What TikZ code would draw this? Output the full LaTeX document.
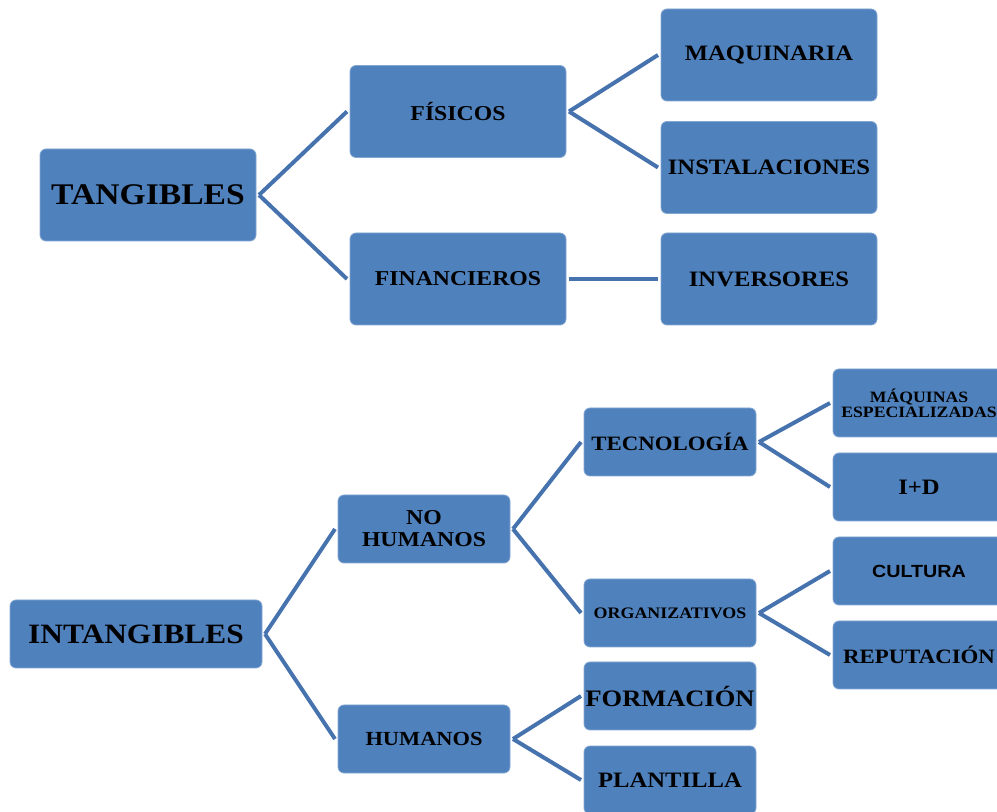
\documentclass[tikz,border=0pt]{standalone}
\usepackage{fontspec}
\setmainfont{Liberation Serif}[FakeStretch=1.12]
\setsansfont{Liberation Sans}[FakeStretch=1.12]
\usepackage{tikz}
\usetikzlibrary{arrows,shapes,positioning}
\definecolor{boxblue}{HTML}{4F81BD}
\definecolor{lineblue}{HTML}{4673AE}
\tikzstyle{bluenode} = [rectangle, draw=boxblue!70!white, line width=0.4pt, fill=boxblue,
    align=center, inner sep=0pt, rounded corners=3pt, outer sep=1.5pt, font=\bfseries]
\tikzstyle{topnode}  = [bluenode, minimum width=108pt, minimum height=46pt]
\tikzstyle{lownode}  = [bluenode, minimum width=86pt, minimum height=34pt]
\tikzstyle{line} = [draw, lineblue, line width=2pt]

\begin{document}
\begin{tikzpicture}[x=0.5pt,y=-0.5pt]
    \useasboundingbox (0,0) rectangle (997,812);
    % Place nodes

    \node [topnode, font=\bfseries\fontsize{15}{17}\selectfont] (tangibles) at (148,195) {TANGIBLES};
    \node [topnode, font=\bfseries\fontsize{10.6}{12}\selectfont] (fisicos) at (458,111.5) {FÍSICOS};
    \node [topnode, font=\bfseries\fontsize{10.6}{12}\selectfont] (financieros) at (458,279) {FINANCIEROS};
    \node [topnode, font=\bfseries\fontsize{11}{12}\selectfont] (maquinaria) at (769,55) {MAQUINARIA};
    \node [topnode, font=\bfseries\fontsize{11}{12}\selectfont] (instalaciones) at (769,167.5) {INSTALACIONES};
    \node [topnode, font=\bfseries\fontsize{11}{12}\selectfont] (inversores) at (769,279) {INVERSORES};

    \node [lownode, minimum width=126pt, font=\bfseries\fontsize{14}{16}\selectfont] (intangibles) at (136,634) {INTANGIBLES};
    \node [lownode, font=\bfseries\fontsize{10.6}{11}\selectfont] (noHumanos) at (424,529) {NO\\HUMANOS};
    \node [lownode, font=\bfseries\fontsize{10}{11}\selectfont] (humanos) at (424,739) {HUMANOS};
    \node [lownode, font=\bfseries\fontsize{10.2}{11}\selectfont] (tecnologia) at (670,442) {TECNOLOGÍA};
    \node [lownode, font=\bfseries\fontsize{8}{9}\selectfont] (organizativos) at (670,613) {ORGANIZATIVOS};
    \node [lownode, font=\bfseries\fontsize{11.8}{13}\selectfont] (formacion) at (670,696) {FORMACIÓN};
    \node [lownode, font=\bfseries\fontsize{11}{12}\selectfont] (plantilla) at (670,780) {PLANTILLA};
    \node [lownode, font=\bfseries\fontsize{7.9}{7.5}\selectfont] (maquinas) at (919,403) {MÁQUINAS\\ESPECIALIZADAS};
    \node [lownode, font=\bfseries\fontsize{11}{12}\selectfont] (iMasD) at (919,487) {I+D};
    \node [lownode, font=\sffamily\bfseries\fontsize{8.8}{10}\selectfont] (cultura) at (919,571) {CULTURA};
    \node [lownode, font=\bfseries\fontsize{10.2}{11}\selectfont] (reputacion) at (919,655) {REPUTACIÓN};

    \path [line] (tangibles.east) -- (fisicos.west);
    \path [line] (tangibles.east) -- (financieros.west);
    \path [line] (fisicos.east) -- (maquinaria.west);
    \path [line] (fisicos.east) -- (instalaciones.west);
    \path [line] (financieros.east) -- (inversores.west);

    \path [line] (intangibles.east) -- (noHumanos.west);
    \path [line] (intangibles.east) -- (humanos.west);
    \path [line] (noHumanos.east) -- (tecnologia.west);
    \path [line] (noHumanos.east) -- (organizativos.west);
    \path [line] (humanos.east) -- (formacion.west);
    \path [line] (humanos.east) -- (plantilla.west);
    \path [line] (tecnologia.east) -- (maquinas.west);
    \path [line] (tecnologia.east) -- (iMasD.west);
    \path [line] (organizativos.east) -- (cultura.west);
    \path [line] (organizativos.east) -- (reputacion.west);
\end{tikzpicture}
\end{document}
